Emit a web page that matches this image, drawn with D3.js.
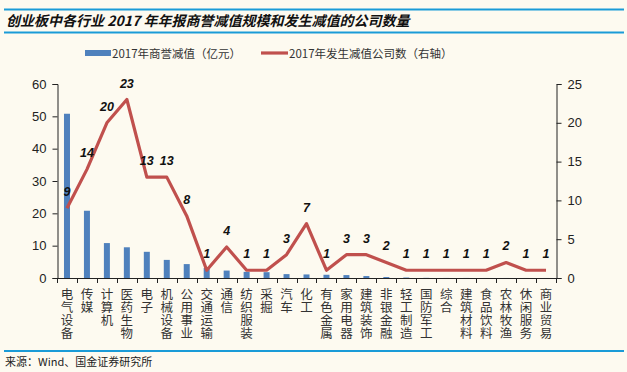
<!DOCTYPE html>
<html>
<head>
<meta charset="utf-8">
<script src="https://cdn.jsdelivr.net/npm/d3@7"></script>
<style>
  html, body { margin: 0; padding: 0; background: #fdfaf0; }
  svg { display: block; }
</style>
</head>
<body>
<svg id="chart" width="627" height="372"></svg>
<script>
const categories = ['电气设备', '传媒', '计算机', '医药生物', '电子', '机械设备', '公用事业', '交通运输', '通信', '纺织服装', '采掘', '汽车', '化工', '有色金属', '家用电器', '建筑装饰', '非银金融', '轻工制造', '国防军工', '综合', '建筑材料', '食品饮料', '农林牧渔', '休闲服务', '商业贸易'];
const impairment = [50.8, 20.8, 10.8, 9.5, 8.1, 5.6, 4.3, 3.1, 2.3, 1.9, 1.8, 1.2, 1.1, 1.0, 0.9, 0.6, 0.3, 0.15, 0.05, 0.02, 0.02, 0.01, 0.01, 0.01, 0.01];
const companies = [9, 14, 20, 23, 13, 13, 8, 1, 4, 1, 1, 3, 7, 1, 3, 3, 2, 1, 1, 1, 1, 1, 2, 1, 1];
const leftTicks = [0, 10, 20, 30, 40, 50, 60];
const rightTicks = [0, 5, 10, 15, 20, 25];

const plotLeft = 57, plotRight = 556, plotTop = 84, plotBottom = 278;
const svg = d3.select('#chart');

const frameBlue = '#1a9bd7';
const barBlue = '#4f81bd';
const lineRed = '#c0504d';
const axisFont = '"Liberation Sans", Arial, sans-serif';
const cjkFont = '"Noto Sans CJK SC", sans-serif';

// header lines + title
svg.append('line').attr('x1', 4).attr('x2', 624).attr('y1', 9.5).attr('y2', 9.5)
  .attr('stroke', frameBlue).attr('stroke-width', 2);
svg.append('line').attr('x1', 4).attr('x2', 624).attr('y1', 32.5).attr('y2', 32.5)
  .attr('stroke', frameBlue).attr('stroke-width', 2);
svg.append('text').attr('x', 6).attr('y', 26)
  .attr('font-family', cjkFont).attr('font-size', 14).attr('font-weight', 'bold')
  .attr('font-style', 'italic').attr('fill', '#111')
  .text('创业板中各行业 2017 年年报商誉减值规模和发生减值的公司数量');

// footer
svg.append('line').attr('x1', 4).attr('x2', 624).attr('y1', 351).attr('y2', 351)
  .attr('stroke', frameBlue).attr('stroke-width', 2);
svg.append('text').attr('x', 5).attr('y', 366)
  .attr('font-family', cjkFont).attr('font-size', 11).attr('fill', '#222')
  .text('来源：Wind、国金证券研究所');

// scales
const x = d3.scaleBand().domain(categories).range([plotLeft, plotRight]);
const yL = d3.scaleLinear().domain([0, 60]).range([plotBottom, plotTop]);
const yR = d3.scaleLinear().domain([0, 25]).range([plotBottom, plotTop]);
const cx = i => x(categories[i]) + x.bandwidth() / 2;

// bars
svg.append('g').selectAll('rect')
  .data(impairment)
  .enter()
  .append('rect')
  .attr('x', (d, i) => cx(i) - 3)
  .attr('y', d => yL(d))
  .attr('width', 6)
  .attr('height', d => plotBottom - yL(d))
  .attr('fill', barBlue);

// line
const line = d3.line()
  .x((d, i) => cx(i))
  .y(d => yR(d));
svg.append('path').datum(companies)
  .attr('d', line)
  .attr('fill', 'none')
  .attr('stroke', lineRed)
  .attr('stroke-width', 3.2)
  .attr('stroke-linejoin', 'round');

// data labels
svg.append('g').selectAll('text')
  .data(companies)
  .enter()
  .append('text')
  .attr('x', (d, i) => cx(i))
  .attr('y', d => yR(d) - 12)
  .attr('text-anchor', 'middle')
  .attr('font-family', axisFont)
  .attr('font-size', 12.5)
  .attr('font-weight', 'bold')
  .attr('font-style', 'italic')
  .attr('fill', '#111')
  .text(d => d);

// axes
const axisColor = '#222';
const yAxisL = svg.append('g').attr('transform', `translate(${plotLeft + 0.5},0)`)
  .call(d3.axisLeft(yL).tickValues(leftTicks).tickSize(5).tickPadding(6));
const yAxisR = svg.append('g').attr('transform', `translate(${plotRight + 0.5},0)`)
  .call(d3.axisRight(yR).tickValues(rightTicks).tickSize(5).tickPadding(6));
[yAxisL, yAxisR].forEach(g => {
  g.select('.domain').attr('stroke', axisColor);
  g.selectAll('text').attr('font-family', axisFont).attr('font-size', 13).attr('fill', '#222');
  g.selectAll('line').attr('stroke', axisColor);
});

// x axis baseline + boundary ticks
svg.append('line').attr('x1', plotLeft).attr('x2', plotRight).attr('y1', plotBottom + 0.5).attr('y2', plotBottom + 0.5)
  .attr('stroke', axisColor);
svg.append('g').selectAll('line')
  .data(d3.range(categories.length + 1))
  .enter()
  .append('line')
  .attr('x1', i => Math.round(plotLeft + i * x.step()) + 0.5)
  .attr('x2', i => Math.round(plotLeft + i * x.step()) + 0.5)
  .attr('y1', plotBottom)
  .attr('y2', plotBottom + 5)
  .attr('stroke', axisColor);

// vertical category labels, one character per row
const catG = svg.append('g');
categories.forEach((c, i) => {
  Array.from(c).forEach((ch, j) => {
    catG.append('text')
      .attr('x', cx(i))
      .attr('y', 299 + j * 13)
      .attr('text-anchor', 'middle')
      .attr('font-family', cjkFont)
      .attr('font-size', 12.5)
      .attr('fill', '#333')
      .text(ch);
  });
});

// legend
const leg = svg.append('g').attr('font-family', cjkFont).attr('font-size', 11.5).attr('fill', '#333');
leg.append('rect').attr('x', 85).attr('y', 50).attr('width', 26).attr('height', 6).attr('fill', barBlue);
leg.append('text').attr('x', 112).attr('y', 58).text('2017年商誉减值（亿元）');
leg.append('line').attr('x1', 261).attr('x2', 288).attr('y1', 53).attr('y2', 53)
  .attr('stroke', lineRed).attr('stroke-width', 3.2);
leg.append('text').attr('x', 289).attr('y', 58).text('2017年发生减值公司数（右轴）');
</script>
</body>
</html>
